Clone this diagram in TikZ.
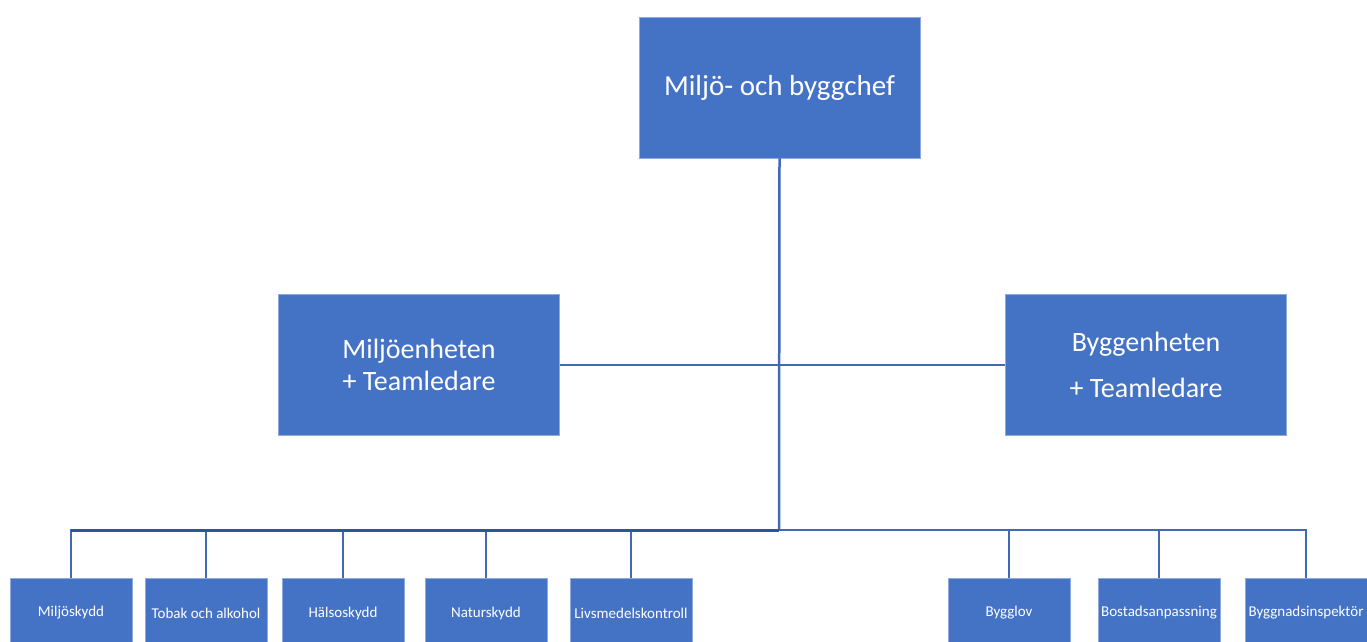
\documentclass[tikz,border=0pt]{standalone}
\usepackage{fontspec}
\setmainfont{Carlito}
\definecolor{boxblue}{HTML}{4472C4}
\definecolor{boxedge}{HTML}{8FAADC}
\definecolor{linkblue}{HTML}{4169B8}
\definecolor{linkdark}{HTML}{2F5597}
\begin{document}
\begin{tikzpicture}[x=1pt,y=-1pt,
  unitbox/.style={rectangle, fill=boxblue, draw=boxedge, line width=0.8pt, text=white, inner sep=0pt, align=center},
  bigbox/.style={unitbox, minimum width=281pt, minimum height=141pt, font=\fontsize{29}{32}\selectfont},
  smallbox/.style={unitbox, minimum width=122pt, minimum height=70pt, font=\fontsize{15}{18}\selectfont},
  link/.style={draw=linkblue, line width=2pt},
  linkthick/.style={draw=linkdark, line width=3pt}]
\useasboundingbox (0,0) rectangle (1367,641);
\clip (0,0) rectangle (1367,641);
\fill[white] (0,0) rectangle (1367,641);

\node[bigbox] (chef) at (779.5,87.5) {Miljö- och byggchef};
\node[bigbox, font=\fontsize{28}{32}\selectfont] (mil) at (419,365) {Miljöenheten\\+ Teamledare};
\node[bigbox, font=\fontsize{28}{32}\selectfont] (byg) at (1146,365) {Byggenheten\\[14pt]+ Teamledare};

\coordinate (hub) at (779,530);

\node[smallbox] (c1) at (71,613) {Miljöskydd};
\node[smallbox] (c2) at (206,613) {Tobak och alkohol};
\node[smallbox] (c3) at (343,613) {Hälsoskydd};
\node[smallbox] (c4) at (486,613) {Naturskydd};
\node[smallbox] (c5) at (631,613) {Livsmedelskontroll};
\node[smallbox] (c6) at (1009,613) {Bygglov};
\node[smallbox] (c7) at (1159,613) {Bostadsanpassning};
\node[smallbox] (c8) at (1306,613) {Byggnadsinspektör};

\draw[link] (mil.east) -- (byg.west);
\draw[link, line width=2.5pt] (chef.south) -- (hub);
\foreach \c in {c1,c2,c3,c4,c5,c6,c7,c8}{
  \draw[link] (hub) -| (\c.north);
}
\draw[linkthick] (hub) -- (c1.north |- hub);
\end{tikzpicture}
\end{document}
